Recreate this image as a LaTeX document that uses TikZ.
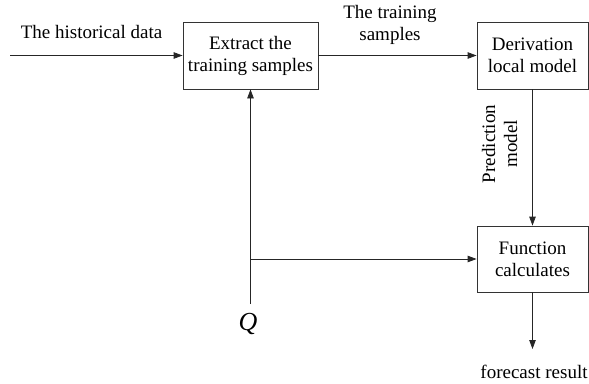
\documentclass[tikz,border=0pt]{standalone}
\usepackage{fontspec}
\setmainfont{Liberation Serif}
\usetikzlibrary{arrows.meta}

\begin{document}
\begin{tikzpicture}[x=1pt,y=-1pt]
\tikzstyle{block}=[rectangle,draw=black!80,line width=0.8pt,align=center,inner sep=0pt,font=\fontsize{19}{22}\selectfont]
\tikzstyle{tag}=[align=center,inner sep=0pt,font=\fontsize{19}{22}\selectfont]
\tikzstyle{flow}=[draw=black!85,line width=0.8pt,-{Triangle[length=9pt,width=6.5pt]}]

\useasboundingbox (0,0) rectangle (589,383);

\node at (250.5,55.5) [block,minimum width=135,minimum height=67] (extract) {Extract the\\training samples};
\node at (532.5,55.5) [block,minimum width=111,minimum height=67] (derive) {Derivation\\local model};
\node at (532.5,259) [block,minimum width=111,minimum height=66] (function) {Function\\calculates};

\coordinate (in) at (10,55.5);
\coordinate (qtop) at (250.5,304);
\coordinate (join) at (250.5,259);
\coordinate (out) at (532.5,349);

\node at (91.5,38) [tag,anchor=base] (hist) {The historical data};
\node at (390,25) [tag] (train) {The training\\samples};
\node at (499.5,144) [tag,rotate=90] (pred) {Prediction\\model};
\node at (248,330) [tag,anchor=base,font=\fontsize{26}{26}\selectfont\itshape] (q) {Q};
\node at (534,378) [tag,anchor=base] (result) {forecast result};

\draw[flow] (in) -- (extract);
\draw[flow] (extract) -- (derive);
\draw[flow] (derive) -- (function);
\draw[flow] (qtop) -- (extract);
\draw[flow] (join) -- (function);
\draw[flow] (function) -- (out);

\end{tikzpicture}
\end{document}
